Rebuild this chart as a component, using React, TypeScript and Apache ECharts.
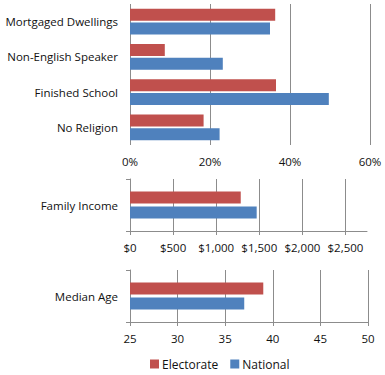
import React, { useEffect, useRef } from "react";
import * as echarts from "echarts";

const pctCategories = ["Mortgaged Dwellings", "Non-English Speaker", "Finished School", "No Religion"];
const pctElectorate = [36.3, 8.7, 36.5, 18.4];
const pctNational = [35.0, 23.2, 49.7, 22.4];

const incomeCategories = ["Family Income"];
const incomeElectorate = [1285];
const incomeNational = [1470];

const ageCategories = ["Median Age"];
const ageElectorate = [39];
const ageNational = [37];

const seriesNames = ["Electorate", "National"];

const RED = "#C0504D";
const BLUE = "#4F81BD";
const GRID = "#8c8c8c";
const FONT = "Open Sans";

export default function App() {
  const ref = useRef<HTMLDivElement>(null);
  useEffect(() => {
    if (!ref.current) return;
    const chart = echarts.init(ref.current, undefined, { renderer: "svg" });
    const txt = { color: "#111", fontFamily: FONT, fontSize: 11.5 };
    const catAxis = (idx: number, data: string[], ticks: boolean) => ({
      type: "category",
      gridIndex: idx,
      data,
      inverse: true,
      axisLine: { show: ticks, lineStyle: { color: GRID } },
      axisTick: { show: ticks, length: 4, lineStyle: { color: GRID } },
      axisLabel: { ...txt, margin: 12 },
    });
    const valAxis = (idx: number, min: number, max: number, interval: number, fmt: (v: number) => string, line: boolean) => ({
      type: "value",
      gridIndex: idx,
      min,
      max,
      interval,
      axisLine: { show: line, lineStyle: { color: GRID } },
      axisTick: { show: line, length: 4, lineStyle: { color: GRID } },
      splitLine: { show: true, showMaxLine: false, lineStyle: { color: GRID, width: 1 } },
      axisLabel: { ...txt, margin: 10, formatter: (v: number) => (v > max - 1e-9 && max % interval !== 0 ? "" : fmt(v)), showMaxLabel: max % interval === 0 },
    });
    const bar = (name: string, data: number[], idx: number, color: string, gap: string) => ({
      type: "bar",
      name,
      data,
      xAxisIndex: idx,
      yAxisIndex: idx,
      barWidth: 12,
      barGap: gap,
      itemStyle: { color },
    });
    chart.setOption({
      animation: false,
      grid: [
        { left: 130, top: 4, width: 240, height: 141 },
        { left: 130, top: 179, width: 237, height: 52 },
        { left: 130, top: 270, width: 238, height: 52 },
      ],
      legend: {
        data: seriesNames,
        left: 148,
        top: 356,
        padding: 2,
        itemWidth: 9,
        itemHeight: 9,
        itemGap: 12,
        icon: "rect",
        textStyle: { ...txt, fontSize: 12, padding: [0, 0, 0, -2] },
      },
      xAxis: [
        { ...valAxis(0, 0, 60, 20, (v) => `${v}%`, false), splitLine: { show: true, lineStyle: { color: GRID } } },
        valAxis(1, 0, 2750, 500, (v) => (v === 0 ? "$0" : "$" + v.toLocaleString("en-US")), true),
        { ...valAxis(2, 25, 50, 5, (v) => `${v}`, true), splitLine: { show: true, lineStyle: { color: GRID } } },
      ],
      yAxis: [
        catAxis(0, pctCategories, false),
        catAxis(1, incomeCategories, true),
        catAxis(2, ageCategories, true),
      ],
      series: [
        bar(seriesNames[0], pctElectorate, 0, RED, "15%"),
        bar(seriesNames[1], pctNational, 0, BLUE, "15%"),
        bar(seriesNames[0], incomeElectorate, 1, RED, "25%"),
        bar(seriesNames[1], incomeNational, 1, BLUE, "25%"),
        bar(seriesNames[0], ageElectorate, 2, RED, "25%"),
        bar(seriesNames[1], ageNational, 2, BLUE, "25%"),
      ],
    });
    return () => chart.dispose();
  }, []);
  return <div ref={ref} style={{ width: 385, height: 375, position: "absolute", left: 0, top: 0 }} />;
}
